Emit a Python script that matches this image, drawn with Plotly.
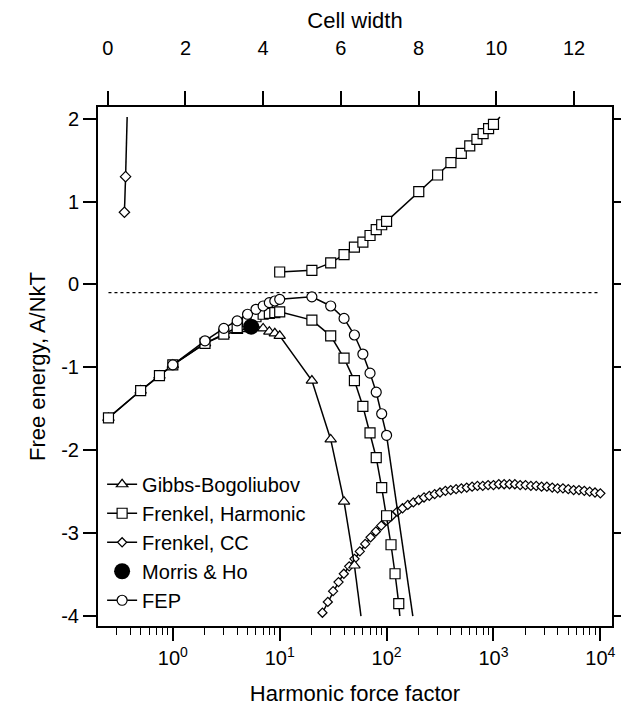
import plotly.graph_objects as go

# ---------------- data ----------------
# Reference level (dotted)
ref_x = [0.25, 10000]
ref_y = [-0.1, -0.1]

# Gibbs-Bogoliubov
gb_x = [0.25, 0.5, 0.75, 1, 2, 3, 4, 5, 6, 7, 8, 9, 10, 20, 30, 40, 50]
gb_y = [-1.61, -1.28, -1.10, -0.97, -0.71, -0.61, -0.56, -0.54, -0.52, -0.53, -0.57, -0.59, -0.62,
        -1.16, -1.87, -2.62, -3.39]
gb_tail_x = [50, 57.6]
gb_tail_y = [-3.39, -4.0]

# Frenkel, Harmonic (lower branch)
fh_x = [0.25, 0.5, 0.75, 1, 2, 3, 4, 5, 6, 7, 8, 9, 10, 20, 30, 40, 50, 60, 70, 80, 90, 100,
        110, 120, 130]
fh_y = [-1.61, -1.28, -1.10, -0.97, -0.71, -0.60, -0.52, -0.45, -0.39, -0.36, -0.35, -0.34, -0.33,
        -0.43, -0.62, -0.89, -1.16, -1.47, -1.79, -2.09, -2.45, -2.79, -3.14, -3.49, -3.85]
fh_tail_x = [130, 133]
fh_tail_y = [-3.85, -4.0]

# Frenkel, Harmonic (upper branch)
fhu_x = [10, 20, 30, 40, 50, 60, 70, 80, 90, 100, 200, 300, 400, 500, 600, 700, 800, 900, 1000]
fhu_y = [0.15, 0.17, 0.26, 0.36, 0.45, 0.51, 0.59, 0.66, 0.72, 0.76, 1.12, 1.32, 1.47, 1.58,
         1.67, 1.75, 1.82, 1.88, 1.93]
fhu_tail_x = [1000, 1150]
fhu_tail_y = [1.93, 2.02]

# Frenkel, CC (lower branch vs harmonic force factor)
cc_x = [25.1, 28.2, 31.6, 35.5, 39.8, 44.7, 50.1, 56.2, 63.1, 70.8, 79.4, 89.1, 100, 112, 126,
        141, 158, 178, 200, 224, 251, 282, 316, 355, 398, 447, 501, 562, 631, 708, 794, 891,
        1000, 1122, 1259, 1413, 1585, 1778, 1995, 2239, 2512, 2818, 3162, 3548, 3981, 4467,
        5012, 5623, 6310, 7079, 7943, 8913, 10000]
cc_y = [-3.96, -3.83, -3.70, -3.59, -3.49, -3.40, -3.31, -3.22, -3.13, -3.05, -2.98, -2.91,
        -2.85, -2.79, -2.74, -2.70, -2.66, -2.63, -2.60, -2.57, -2.55, -2.53, -2.51, -2.49,
        -2.48, -2.47, -2.46, -2.45, -2.44, -2.43, -2.43, -2.42, -2.42, -2.41, -2.41, -2.41,
        -2.41, -2.42, -2.42, -2.43, -2.43, -2.44, -2.44, -2.45, -2.46, -2.46, -2.47, -2.48,
        -2.48, -2.49, -2.50, -2.51, -2.52]

# Frenkel, CC (upper branch vs cell width)
ccu_x = [0.43, 0.46]
ccu_y = [0.87, 1.30]
ccu_tail_x = [0.46, 0.50]
ccu_tail_y = [1.30, 2.02]

# FEP
fep_x = [1, 2, 3, 4, 5, 6, 7, 8, 9, 10, 20, 30, 40, 50, 60, 70, 80, 90, 100]
fep_y = [-0.97, -0.68, -0.53, -0.44, -0.36, -0.30, -0.26, -0.22, -0.20, -0.18, -0.15, -0.26,
         -0.41, -0.61, -0.84, -1.07, -1.30, -1.56, -1.82]
fep_tail_x = [100, 176]
fep_tail_y = [-1.82, -4.0]

# Morris & Ho
mh_x = [5.4]
mh_y = [-0.51]

# axis ticks
y_ticks = [-4, -3, -2, -1, 0, 1, 2]
y_tick_text = ["-4", "-3", "-2", "-1", "0", "1", "2"]
x_major = [1, 10, 100, 1000, 10000]
x_major_text = ["10<sup>0</sup>", "10<sup>1</sup>", "10<sup>2</sup>", "10<sup>3</sup>", "10<sup>4</sup>"]
x_minor = [0.3, 0.4, 0.5, 0.6, 0.7, 0.8, 0.9,
           2, 3, 4, 5, 6, 7, 8, 9,
           20, 30, 40, 50, 60, 70, 80, 90,
           200, 300, 400, 500, 600, 700, 800, 900,
           2000, 3000, 4000, 5000, 6000, 7000, 8000, 9000]
top_ticks = [0, 2, 4, 6, 8, 10, 12]

# ---------------- figure ----------------
FONT = "Arial, Liberation Sans, Helvetica, sans-serif"
LW = 1.5
fig = go.Figure()

def tail(x, y, xaxis="x"):
    fig.add_trace(go.Scatter(x=x, y=y, mode="lines", xaxis=xaxis, showlegend=False,
                             line=dict(color="black", width=LW), hoverinfo="skip"))

def mk(symbol, size, fill="white"):
    return dict(symbol=symbol, size=size, color=fill, line=dict(color="black", width=1.2))

# dotted reference
fig.add_trace(go.Scatter(x=ref_x, y=ref_y, mode="lines", showlegend=False,
                         line=dict(color="black", width=1.2, dash="dot")))

# Frenkel CC
fig.add_trace(go.Scatter(x=cc_x, y=cc_y, mode="lines+markers", name="Frenkel, CC",
                         legendrank=3, legendgroup="cc",
                         line=dict(color="black", width=LW), marker=mk("diamond", 7)))
tail(ccu_tail_x, ccu_tail_y, "x2")
fig.add_trace(go.Scatter(x=ccu_x, y=ccu_y, mode="lines+markers", xaxis="x2", showlegend=False,
                         legendgroup="cc",
                         line=dict(color="black", width=LW), marker=mk("diamond", 8)))

# Gibbs-Bogoliubov
tail(gb_tail_x, gb_tail_y)
fig.add_trace(go.Scatter(x=gb_x, y=gb_y, mode="lines+markers", name="Gibbs-Bogoliubov",
                         legendrank=1, line=dict(color="black", width=LW),
                         marker=mk("triangle-up", 10)))

# Frenkel harmonic
tail(fh_tail_x, fh_tail_y)
fig.add_trace(go.Scatter(x=fh_x, y=fh_y, mode="lines+markers", name="Frenkel, Harmonic",
                         legendrank=2, legendgroup="fh",
                         line=dict(color="black", width=LW), marker=mk("square", 10)))
tail(fhu_tail_x, fhu_tail_y)
fig.add_trace(go.Scatter(x=fhu_x, y=fhu_y, mode="lines+markers", showlegend=False,
                         legendgroup="fh",
                         line=dict(color="black", width=LW), marker=mk("square", 10)))

# FEP
tail(fep_tail_x, fep_tail_y)
fig.add_trace(go.Scatter(x=fep_x, y=fep_y, mode="lines+markers", name="FEP",
                         legendrank=5, line=dict(color="black", width=LW),
                         marker=mk("circle", 10)))

# Morris & Ho
fig.add_trace(go.Scatter(x=mh_x, y=mh_y, mode="markers", name="Morris & Ho",
                         legendrank=4, marker=dict(symbol="circle", size=16, color="black")))

axis_common = dict(showline=True, linecolor="black", linewidth=2, showgrid=False,
                   zeroline=False, ticks="outside", tickcolor="black",
                   tickfont=dict(family=FONT, size=20, color="black"))
TITLE_FONT = dict(family=FONT, size=22, color="black")

fig.update_layout(
    width=629, height=719,
    margin=dict(l=90, r=10, t=89, b=101),
    paper_bgcolor="white", plot_bgcolor="white",
    font=dict(family=FONT, size=20, color="black"),
    xaxis=dict(**axis_common, type="log", range=[-0.70, 4.109],
               tickmode="array", tickvals=x_major, ticktext=x_major_text,
               ticklen=13, tickwidth=1.5,
               minor=dict(tickmode="array", tickvals=x_minor, ticks="outside",
                          ticklen=7, tickwidth=1.2, tickcolor="black", showgrid=False),
               title=dict(text="Harmonic force factor", standoff=18, font=TITLE_FONT)),
    xaxis2=dict(**axis_common, overlaying="x", side="top", anchor="y",
                range=[-0.25, 12.975], tickmode="array", tickvals=top_ticks,
                ticklen=14, tickwidth=1.5, ticklabelstandoff=28,
                title=dict(text="Cell width", standoff=4, font=TITLE_FONT)),
    yaxis=dict(**axis_common, range=[-4.12, 2.14], tickmode="array", tickvals=y_ticks,
               ticktext=y_tick_text,
               mirror="ticks", ticklen=13, tickwidth=1.5,
               title=dict(text="Free energy, A/NkT", standoff=10, font=TITLE_FONT)),
    legend=dict(x=0.008, y=0.012, xanchor="left", yanchor="bottom",
                bgcolor="rgba(0,0,0,0)", borderwidth=0,
                font=dict(family=FONT, size=20, color="black"),
                tracegroupgap=0, itemsizing="trace"),
)

fig.write_html("out.html")
